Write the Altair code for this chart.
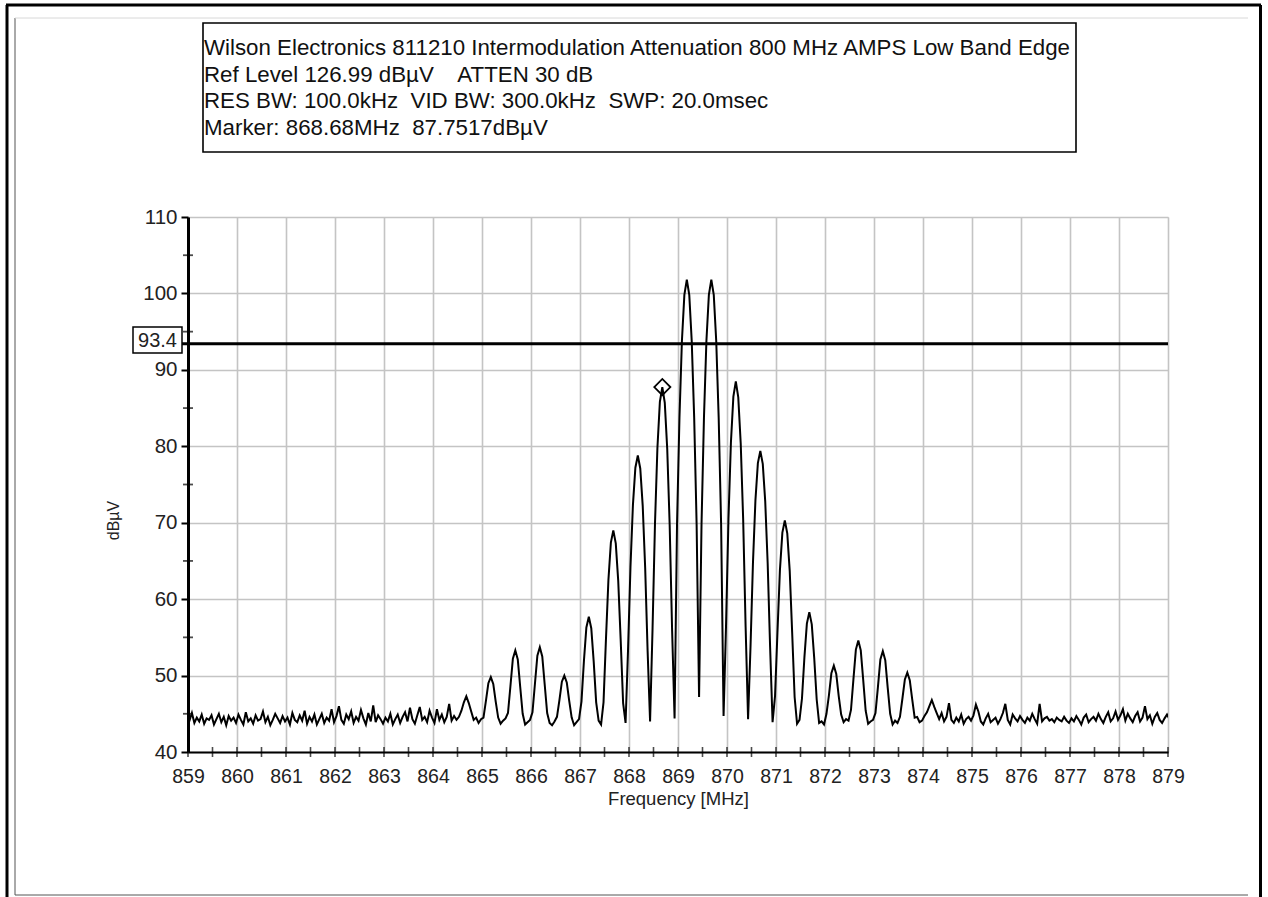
import altair as alt
import numpy as np
import pandas as pd

# Sweep settings: 0.05 MHz sample spacing
F_START = 858.98
F_STEP = 0.05

# Measured trace levels (dBuV), 10 samples per 0.5 MHz row
level_low = [
    44.6, 44.1, 45.1, 43.8, 44.5, 44.0, 44.9, 43.7, 44.4, 44.2,
    44.8, 43.6, 44.3, 45.0, 43.9, 44.6, 43.5, 44.7, 44.1, 44.5,
    43.8, 44.9, 44.2, 43.6, 45.2, 44.0, 44.4, 43.7, 44.8, 44.1,
    44.3, 45.3, 43.9, 44.6, 43.5, 44.2, 45.0, 44.4, 43.8, 44.7,
    44.0, 44.5, 43.6, 45.1, 44.2, 43.9, 44.8, 44.1, 45.4, 43.7,
    44.6, 44.0, 44.9, 43.6, 44.3, 45.0, 43.8, 44.5, 44.1, 45.6,
    43.9, 44.7, 46.0, 44.2, 43.7, 44.9, 44.3, 45.3, 43.8, 44.6,
    44.1, 45.5, 44.4, 43.6, 45.1, 44.0, 46.1, 43.9, 44.8, 44.3,
    43.7, 44.5, 44.0, 45.0, 43.6, 44.3, 44.9, 43.8, 44.6, 45.2,
    44.0, 45.8, 44.3, 43.7, 44.8, 45.9, 44.2, 44.6, 43.9, 45.4,
    44.5, 43.8, 45.6, 44.2, 44.9, 43.9, 44.6, 46.3, 44.1, 44.7,
]
level_comb = [
    44.2, 44.6, 45.4, 46.5, 47.3, 46.4, 45.3, 44.2, 44.5, 43.8,
    44.3, 44.5, 46.7, 49.0, 49.8, 48.9, 46.6, 44.5, 43.7, 44.1,
    44.4, 45.1, 48.6, 52.2, 53.3, 52.1, 48.5, 45.0, 43.6, 43.9,
    44.2, 45.2, 48.9, 52.6, 53.7, 52.5, 48.8, 45.1, 43.8, 43.5,
    44.0, 44.6, 46.8, 49.2, 50.0, 49.1, 46.7, 44.5, 43.5, 43.9,
    44.3, 46.6, 51.9, 56.3, 57.7, 56.2, 51.8, 46.5, 44.1, 43.6,
    46.5, 54.8, 62.5, 67.4, 69.0, 67.3, 62.4, 54.7, 46.4, 43.8,
    53.3, 64.2, 72.3, 77.2, 78.8, 77.1, 72.2, 64.1, 53.2, 44.0,
    56.0, 69.8, 79.8, 85.8, 87.7517, 85.7, 79.7, 69.7, 55.9, 44.4,
    69.8, 83.8, 93.8, 99.8, 101.8, 99.8, 93.8, 83.8, 69.8, 47.2,
    69.8, 83.8, 93.8, 99.8, 101.8, 99.8, 93.8, 83.8, 69.8, 44.7,
    56.5, 70.5, 80.5, 86.5, 88.5, 86.4, 80.4, 70.4, 56.4, 44.3,
    53.8, 64.8, 72.9, 77.8, 79.4, 77.7, 72.8, 64.7, 53.7, 43.9,
    47.3, 55.7, 63.8, 68.7, 70.3, 68.6, 63.7, 55.6, 47.2, 43.7,
    44.2, 47.0, 52.4, 56.8, 58.3, 56.7, 52.3, 46.9, 43.8, 44.0,
    43.6, 45.0, 47.4, 50.3, 51.3, 50.2, 47.3, 44.9, 43.9, 44.3,
    44.1, 45.5, 49.5, 53.4, 54.6, 53.3, 49.4, 45.4, 43.7, 44.0,
    44.2, 45.1, 48.5, 52.1, 53.2, 52.0, 48.4, 45.0, 43.6, 44.1,
    43.8, 44.6, 47.0, 49.5, 50.4, 49.4, 46.9, 44.5, 44.6, 43.9,
    44.1, 44.7, 45.2, 46.0, 46.8, 45.9, 45.1, 44.3, 45.1, 44.0,
]
level_high = [
    44.6, 46.4, 44.2, 43.8, 44.5, 44.0, 44.9, 43.7, 44.3, 44.6,
    44.1, 44.8, 46.2, 45.3, 44.0, 43.6, 44.4, 45.0, 43.9, 44.2,
    44.5, 43.7, 44.3, 45.1, 46.3, 44.2, 43.6, 44.9, 44.4, 44.0,
    44.7, 44.2, 43.8, 44.5, 44.1, 45.0, 44.3, 43.7, 46.3, 44.0,
    44.4, 44.6, 44.1, 44.3, 43.9, 44.5, 44.2, 44.0, 44.6, 44.1,
    43.8, 44.4, 44.0, 44.7, 44.2, 43.6, 44.5, 44.9, 43.9, 44.3,
    44.6, 44.1, 45.0, 44.3, 43.8, 44.6, 45.2, 44.0, 44.4, 45.3,
    44.2, 44.8, 45.6, 44.1, 45.0, 44.4, 43.9, 44.7, 45.2, 44.0,
    44.5, 46.0, 44.3, 44.8, 43.7, 44.6, 45.1, 44.2, 43.8, 44.4,
    44.9, 44.3,
]

x_labels = list(range(859, 880))
x_ticks = [859 + 0.5 * i for i in range(41)]
y_labels = list(range(40, 111, 10))
y_minor = list(range(45, 106, 10))

display_line = 93.4
marker_freq = 868.68
marker_level = 87.7517

NB = "\u00a0"
header_lines = [
    "Wilson Electronics 811210 Intermodulation Attenuation 800 MHz AMPS Low Band Edge",
    f"Ref Level 126.99 dB\u00b5V{NB * 3} ATTEN 30 dB",
    f"RES BW: 100.0kHz{NB} VID BW: 300.0kHz{NB} SWP: 20.0msec",
    f"Marker: {marker_freq:.2f}MHz{NB} {marker_level:.4f}dB\u00b5V",
]

FONT = "Liberation Sans"
W, H = 980, 535

levels = level_low + level_comb + level_high
freqs = np.round(F_START + F_STEP * np.arange(len(levels)), 2)
trace = pd.DataFrame({"freq": freqs, "level": levels})
one = pd.DataFrame({"k": [0]})

x_scale = alt.Scale(domain=[859, 879], nice=False, zero=False)
y_scale = alt.Scale(domain=[40, 110], nice=False, zero=False)

x_axis = alt.Axis(
    values=x_labels, labelFontSize=19.5, labelFont=FONT, labelColor="#222",
    labelPadding=15, ticks=False, labelOverlap=False, labelFlush=False,
    domainColor="black", domainWidth=2,
    grid=True, gridColor="#c4c4c4", gridWidth=1.6,
    title="Frequency [MHz]", titleFont=FONT, titleFontSize=18.5,
    titleFontWeight="normal", titleColor="#222",
    titleX=490, titleY=46, titleBaseline="middle", titleAlign="center",
)
y_axis = alt.Axis(
    values=y_labels, labelFontSize=20.5, labelFont=FONT, labelColor="#222",
    labelPadding=4, tickSize=7, tickWidth=2, tickColor="black",
    labelOverlap=False, labelFlush=False,
    domainColor="black", domainWidth=3,
    grid=True, gridColor="#c4c4c4", gridWidth=1.6,
    title="dB\u00b5V", titleFont=FONT, titleFontSize=16,
    titleFontWeight="normal", titleColor="#222",
    titleX=-75, titleY=303, titleAngle=270,
    titleBaseline="middle", titleAlign="center",
)

line = alt.Chart(trace).mark_line(color="black", strokeWidth=2, clip=True).encode(
    x=alt.X("freq:Q", scale=x_scale, axis=x_axis),
    y=alt.Y("level:Q", scale=y_scale, axis=y_axis),
)

dl = pd.DataFrame({"level": [display_line], "label": [f"{display_line:.1f}"]})
dline = alt.Chart(dl).mark_rule(color="black", strokeWidth=3).encode(
    y=alt.Y("level:Q", scale=y_scale),
    x=alt.value(-6), x2=alt.value(W),
)
dbox = alt.Chart(one).mark_rect(fill="white", stroke="black", strokeWidth=1.5).encode(
    x=alt.value(-55), x2=alt.value(-6), y=alt.value(110), y2=alt.value(136),
)
dtext = alt.Chart(dl).mark_text(
    font=FONT, fontSize=20, color="#222", align="center", baseline="middle"
).encode(text="label:N", x=alt.value(-30.5), y=alt.value(124))

mk = pd.DataFrame({"freq": [marker_freq], "level": [marker_level]})
marker = alt.Chart(mk).mark_point(
    shape="diamond", filled=False, stroke="black", strokeWidth=1.8, size=260, opacity=1
).encode(
    x=alt.X("freq:Q", scale=x_scale), y=alt.Y("level:Q", scale=y_scale)
)

xt = alt.Chart(pd.DataFrame({"freq": x_ticks})).mark_tick(
    color="black", thickness=1.6, size=10, orient="vertical"
).encode(x=alt.X("freq:Q", scale=x_scale), y=alt.value(H))

yt = alt.Chart(pd.DataFrame({"level": y_minor})).mark_tick(
    color="black", thickness=1.8, size=10, orient="horizontal"
).encode(y=alt.Y("level:Q", scale=y_scale), x=alt.value(0))

header_box = alt.Chart(one).mark_rect(fill="white", stroke="black", strokeWidth=1.6).encode(
    x=alt.value(15), x2=alt.value(888), y=alt.value(-194), y2=alt.value(-65),
)
header_text = [
    alt.Chart(pd.DataFrame({"t": [txt]})).mark_text(
        font=FONT, fontSize=22.3, color="#111", align="left", baseline="middle"
    ).encode(text="t:N", x=alt.value(16), y=alt.value(-169 + 26.5 * i))
    for i, txt in enumerate(header_lines)
]


def rule(x, y, x2, y2, color="black", width=3.0):
    return alt.Chart(one).mark_rule(color=color, strokeWidth=width).encode(
        x=alt.value(x), y=alt.value(y), x2=alt.value(x2), y2=alt.value(y2)
    )


# page frame around the whole chart
frame = [
    rule(-181, -212, -181, 700),
    rule(-182, -212, 1073, -212),
    rule(1072.5, -212, 1072.5, 700),
    rule(-173, -199, -173, 678, color="#555", width=1),
    rule(-173, 678, 1060, 678, color="#555", width=1),
    rule(-173, -199, 1060, -199, color="#d8d8d8", width=1),
]

chart = alt.layer(
    *frame, line, dline, dbox, dtext, marker, xt, yt, header_box, *header_text
).properties(
    width=W, height=H,
    autosize=alt.AutoSizeParams(type="none"),
    padding={"left": 188, "top": 217, "right": 100, "bottom": 145},
    background="white",
).configure_view(
    stroke="black", strokeWidth=2.5
).configure(font=FONT)

chart.save("out.html", embed_options={"renderer": "svg", "actions": False})
